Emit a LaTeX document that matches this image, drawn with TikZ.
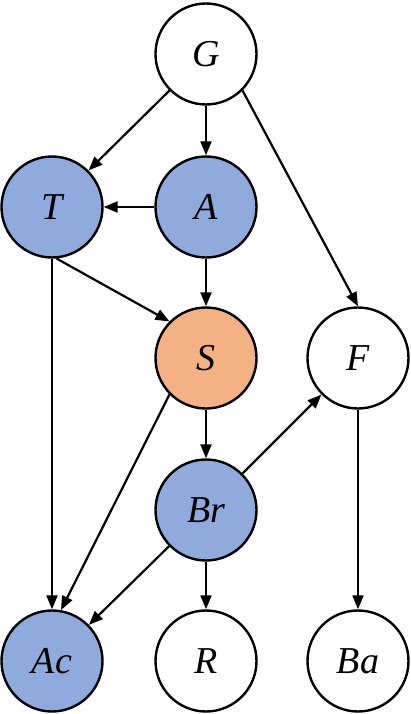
\documentclass[tikz,border=0pt]{standalone}
\usepackage{fontspec}
\setmainfont{Liberation Serif}
\usetikzlibrary{arrows.meta}
\definecolor{nblue}{HTML}{8FAADC}
\definecolor{norange}{HTML}{F4B183}
\tikzset{
  v/.style  = {draw=black, fill=white, circle, line width=2.4pt,
               minimum size=101pt, inner sep=0pt,
               font=\fontsize{38}{42}\selectfont\itshape},
  vb/.style = {v, fill=nblue},
  vo/.style = {v, fill=norange},
  a/.style  = {-{Triangle[length=14pt,width=11pt]}, line width=2.2pt},
}
\begin{document}
\begin{tikzpicture}[x=1pt, y=-1pt]
\useasboundingbox (0,0) rectangle (411,714);

% three columns, five rows
\node[v]  (G)  at (206,54)  {G};
\node[vb] (T)  at (52,207)  {T};
\node[vb] (A)  at (206,207) {A};
\node[vo] (S)  at (206,358) {S};
\node[v]  (F)  at (358,358) {F};
\node[vb] (Br) at (206,510) {Br};
\node[vb] (Ac) at (52,661)  {Ac};
\node[v]  (R)  at (206,661) {R};
\node[v]  (Ba) at (358,661) {Ba};

\draw[a] (G.south west) -- (T.north east);
\draw[a] (G) -- (A);
\draw[a] (G.-45) -- (F.north);
\draw[a] (A) -- (T);
\draw[a] (T.-85) -- (S.north west);
\draw[a] (A) -- (S);
\draw[a] (T) -- (Ac);
\draw[a] (S.south west) -- (Ac.80);
\draw[a] (S) -- (Br);
\draw[a] (Br) -- (F);
\draw[a] (Br) -- (Ac);
\draw[a] (Br) -- (R);
\draw[a] (F) -- (Ba);

\end{tikzpicture}
\end{document}
